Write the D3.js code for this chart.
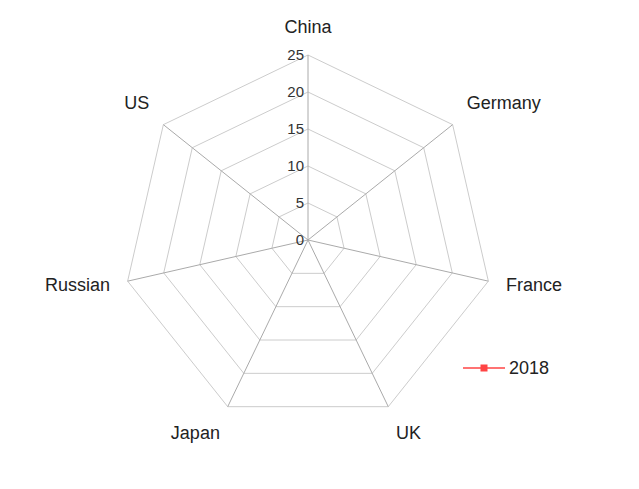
<!DOCTYPE html>
<html>
<head>
<meta charset="utf-8">
<script src="https://cdn.jsdelivr.net/npm/d3@7"></script>
<style>
  body { margin: 0; background: #fff; }
</style>
</head>
<body>
<script>
var categories = ["China", "Germany", "France", "UK", "Japan", "Russian", "US"];
var seriesName = "2018";
// no values are plotted for 2018 in the reference
var values2018 = [null, null, null, null, null, null, null];
var ticks = [0, 5, 10, 15, 20, 25];

var width = 639, height = 489;
var cx = 308, cy = 240, radius = 185;

var svg = d3.select("body")
    .append("svg")
    .attr("width", width)
    .attr("height", height);

var r = d3.scaleLinear().domain([0, 25]).range([0, radius]);
var angle = d3.scaleLinear().domain([0, categories.length]).range([0, 2 * Math.PI]);

function pt(i, v) {
    var a = angle(i);
    return [cx + r(v) * Math.sin(a), cy - r(v) * Math.cos(a)];
}

var g = svg.append("g");

// grid rings
g.selectAll("polygon.ring")
    .data(ticks.slice(1))
    .enter()
    .append("polygon")
    .attr("class", "ring")
    .attr("points", function(t) {
        return categories.map(function(d, i) { return pt(i, t).join(","); }).join(" ");
    })
    .attr("fill", "none")
    .attr("stroke", "#ccc")
    .attr("stroke-width", 1);

// axis spokes
g.selectAll("line.spoke")
    .data(categories)
    .enter()
    .append("line")
    .attr("class", "spoke")
    .attr("x1", cx)
    .attr("y1", cy)
    .attr("x2", function(d, i) { return pt(i, 25)[0]; })
    .attr("y2", function(d, i) { return pt(i, 25)[1]; })
    .attr("stroke", "#aaa")
    .attr("stroke-width", 1);

// tick labels along the first axis
g.selectAll("text.tick")
    .data(ticks)
    .enter()
    .append("text")
    .attr("class", "tick")
    .attr("x", cx - 4)
    .attr("y", function(t) { return cy - r(t); })
    .attr("dy", "0.35em")
    .attr("text-anchor", "end")
    .attr("font-family", "Liberation Sans, Arial, sans-serif")
    .attr("font-size", "15px")
    .attr("fill", "#333")
    .text(function(t) { return t; });

// category names
g.selectAll("text.name")
    .data(categories)
    .enter()
    .append("text")
    .attr("class", "name")
    .each(function(d, i) {
        var a = angle(i), ux = Math.sin(a), uy = -Math.cos(a);
        var p = [cx + (radius + 18) * ux, cy + (radius + 18) * uy];
        var anchor = Math.abs(ux) < 0.3 ? "middle" : (ux > 0 ? "start" : "end");
        var dy = Math.abs(uy) < 0.3 ? "0.35em" : (uy < 0 ? "-0.25em" : "0.9em");
        d3.select(this)
            .attr("x", p[0])
            .attr("y", p[1])
            .attr("dy", dy)
            .attr("text-anchor", anchor);
    })
    .attr("font-family", "Liberation Sans, Arial, sans-serif")
    .attr("font-size", "18px")
    .attr("fill", "#222")
    .text(function(d) { return d; });

// series
var red = "#f44";
var line = d3.line()
    .defined(function(d) { return d != null; })
    .x(function(d, i) { return pt(i, d)[0]; })
    .y(function(d, i) { return pt(i, d)[1]; });

g.append("path")
    .datum(values2018)
    .attr("d", line)
    .attr("fill", "none")
    .attr("stroke", red)
    .attr("stroke-width", 2);

g.selectAll("rect.dot")
    .data(values2018.map(function(v, i) { return {v: v, i: i}; }).filter(function(d) { return d.v != null; }))
    .enter()
    .append("rect")
    .attr("class", "dot")
    .attr("x", function(d) { return pt(d.i, d.v)[0] - 3.5; })
    .attr("y", function(d) { return pt(d.i, d.v)[1] - 3.5; })
    .attr("width", 7)
    .attr("height", 7)
    .attr("fill", red);

// legend
var legend = svg.append("g").attr("transform", "translate(463,368)");
legend.append("line")
    .attr("x1", 0).attr("x2", 42)
    .attr("y1", 0).attr("y2", 0)
    .attr("stroke", red)
    .attr("stroke-width", 1.5);
legend.append("rect")
    .attr("x", 17.5).attr("y", -3.5)
    .attr("width", 7).attr("height", 7)
    .attr("fill", red);
legend.append("text")
    .attr("x", 46)
    .attr("y", 0)
    .attr("dy", "0.35em")
    .attr("font-family", "Liberation Sans, Arial, sans-serif")
    .attr("font-size", "18px")
    .attr("fill", "#222")
    .text(seriesName);
</script>
</body>
</html>
